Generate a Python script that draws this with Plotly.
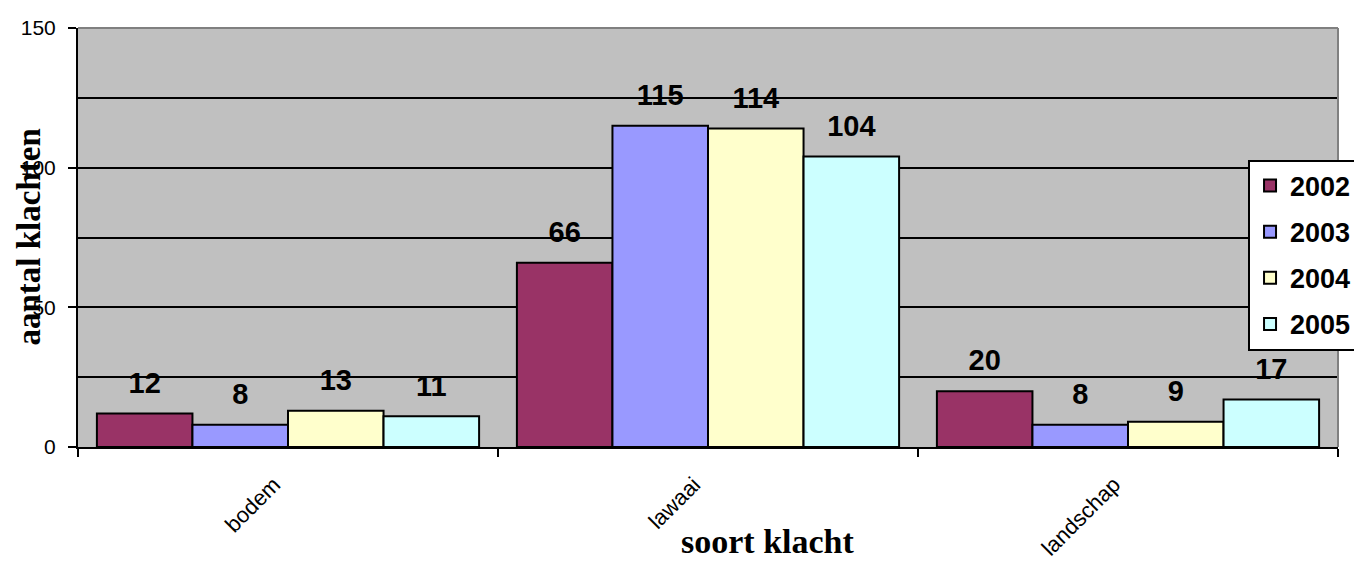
import plotly.graph_objects as go

categories = ["bodem", "lawaai", "landschap"]
years = ["2002", "2003", "2004", "2005"]
values = {
    "2002": [12, 66, 20],
    "2003": [8, 115, 8],
    "2004": [13, 114, 9],
    "2005": [11, 104, 17],
}
colors = {
    "2002": "#993366",
    "2003": "#9999FF",
    "2004": "#FFFFCC",
    "2005": "#CCFFFF",
}

SANS = "Arial, Liberation Sans, sans-serif"
SERIF = "Times New Roman, Liberation Serif, serif"

fig = go.Figure()
for year in years:
    fig.add_trace(go.Bar(
        x=categories,
        y=values[year],
        name=year,
        legendgroup=year,
        offsetgroup=year,
        marker=dict(color=colors[year], line=dict(color="black", width=2)),
    ))
# value labels, grouped like the bars; the invisible marker keeps a gap above the bar
for year in years:
    fig.add_trace(go.Scatter(
        x=categories,
        y=values[year],
        mode="markers+text",
        text=[str(v) for v in values[year]],
        textposition="top center",
        textfont=dict(family=SANS, size=29, color="black", weight="bold"),
        marker=dict(size=20, opacity=0),
        offsetgroup=year,
        showlegend=False,
        hoverinfo="skip",
        cliponaxis=False,
    ))

# the page body adds 8px around the figure, so the figure is 8px smaller than the window
fig.update_layout(
    width=1354,
    height=553,
    margin=dict(l=70, r=24, t=20, b=114, autoexpand=False),
    paper_bgcolor="white",
    plot_bgcolor="#C0C0C0",
    barmode="group",
    scattermode="group",
    bargap=0.09,
    bargroupgap=0,
    scattergap=0.09,
    showlegend=True,
    legend=dict(
        x=0.9286, y=0.686, xanchor="left", yanchor="top",
        bgcolor="white", bordercolor="black", borderwidth=2,
        font=dict(family=SANS, size=27, color="black", weight="bold"),
        tracegroupgap=8,
    ),
    font=dict(family=SANS, color="black"),
)

fig.update_xaxes(
    automargin=False,
    showline=True, linecolor="black", linewidth=2,
    ticks="outside", tickson="boundaries", ticklen=8, tickcolor="black", tickwidth=2,
    tickangle=-45, tickfont=dict(family=SANS, size=22, color="black"),
    ticklabelstandoff=14, ticklabelshift=-14,
    showgrid=False,
)
fig.update_yaxes(
    automargin=False,
    range=[0, 150], dtick=50,
    showline=True, linecolor="black", linewidth=2,
    ticks="outside", ticklen=8, tickcolor="black", tickwidth=2,
    tickfont=dict(family=SANS, size=21, color="black"),
    ticklabelstandoff=8,
    showgrid=True, gridcolor="black", gridwidth=2,
    minor=dict(dtick=25, showgrid=True, gridcolor="black", gridwidth=2),
    zeroline=False,
)

fig.add_annotation(
    text="aantal klachten", xref="paper", yref="paper", x=0, y=0.5,
    xshift=-50, xanchor="center", yanchor="middle", textangle=-90, showarrow=False,
    font=dict(family=SERIF, size=33, color="black", weight="bold"),
)
fig.add_annotation(
    text="soort klacht", xref="paper", yref="paper", x=0.548, y=0,
    yshift=-94, xanchor="center", yanchor="middle", showarrow=False,
    font=dict(family=SERIF, size=34, color="black", weight="bold"),
)

# grey frame on the top and right side of the plot area
fig.add_shape(type="line", xref="paper", yref="paper", x0=0, x1=1, y0=1, y1=1,
              line=dict(color="#808080", width=2))
fig.add_shape(type="line", xref="paper", yref="paper", x0=1, x1=1, y0=0, y1=1,
              line=dict(color="#808080", width=2))

fig.write_html("out.html")
